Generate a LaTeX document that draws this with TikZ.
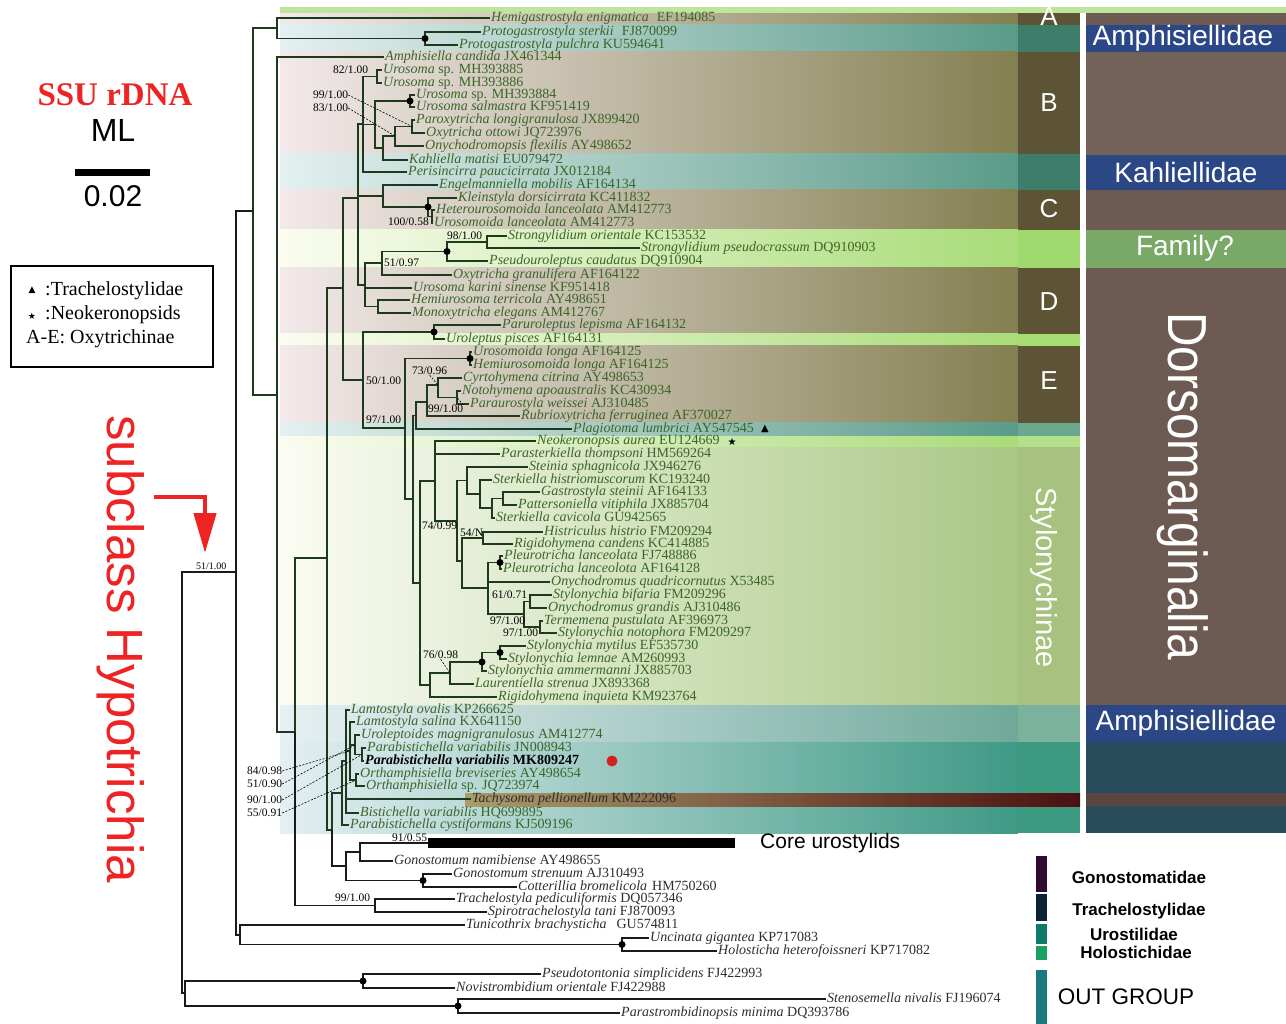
\documentclass[tikz,border=0pt]{standalone}
\usepackage{fontspec}
\setmainfont{Liberation Serif}
\setsansfont{Liberation Sans}
\newfontfamily\symf{DejaVu Sans}
\usetikzlibrary{arrows.meta}
\definecolor{brg}{HTML}{1E3A1C}
\definecolor{brk}{HTML}{1A1A1A}
\definecolor{tipg}{HTML}{3A6628}
\definecolor{tipk}{HTML}{2B302B}
\definecolor{olL}{HTML}{F3E9EB}\definecolor{olM}{HTML}{C8C59C}\definecolor{olR}{HTML}{837F50}
\definecolor{teL}{HTML}{E4F0F1}\definecolor{teM}{HTML}{A9D2C6}\definecolor{teR}{HTML}{5A9B88}
\definecolor{lgL}{HTML}{FAFCEF}\definecolor{lgM}{HTML}{DCEFBF}\definecolor{lgR}{HTML}{A9DC78}
\definecolor{stL}{HTML}{FBFCF4}\definecolor{stM}{HTML}{E1ECC9}\definecolor{stR}{HTML}{A9C785}
\definecolor{aaL}{HTML}{E7F0F4}\definecolor{aaM}{HTML}{B7D8D0}\definecolor{aaR}{HTML}{6FA99A}
\definecolor{abL}{HTML}{E4EFF3}\definecolor{abM}{HTML}{93CABB}\definecolor{abR}{HTML}{3F9A85}
\definecolor{colol}{HTML}{5C5434}
\definecolor{colte}{HTML}{3F7D6B}
\definecolor{brn}{HTML}{6D5A52}
\definecolor{famblue}{HTML}{2B4786}
\definecolor{dteal}{HTML}{294B5B}
\definecolor{hred}{HTML}{EE2424}
\definecolor{cfam}{HTML}{9FD86C}
\definecolor{clg2}{HTML}{A6DC70}
\definecolor{cpla}{HTML}{6AA890}
\definecolor{cneo}{HTML}{B4E08A}
\definecolor{csty}{HTML}{A7C17F}
\definecolor{cam1}{HTML}{7AB29D}
\definecolor{cam2}{HTML}{3C9A81}
\definecolor{ctac}{HTML}{4C0F0F}
\definecolor{tacL}{HTML}{AA9C6C}\definecolor{tacM}{HTML}{7F5E3C}\definecolor{tacR}{HTML}{4A1010}
\definecolor{ctop}{HTML}{BFE59C}
\definecolor{cbrn2}{HTML}{73625A}
\definecolor{cfamR}{HTML}{7AA866}
\definecolor{cbrn3}{HTML}{5A4641}
\definecolor{cdot}{HTML}{D42020}
\definecolor{lga}{HTML}{2E0A30}
\definecolor{lgb}{HTML}{0B2236}
\definecolor{lgc}{HTML}{0F7A68}
\definecolor{lgd}{HTML}{1AA060}
\definecolor{lge}{HTML}{1A7A80}
\newcommand\band[4]{\shade[left color=#3L, middle color=#3M, right color=#3R] (280,#1) rectangle (1018,#2);
  \fill[#4] (1018,#1) rectangle (1080,#2);}
\newcommand\rcol[3]{\fill[#3] (1086,#1) rectangle (1286,#2);}
\begin{document}
\begin{tikzpicture}[x=1pt,y=-1pt,
  tip/.style={anchor=west, inner xsep=1pt, inner ysep=0pt, text height=9.5pt, text depth=3pt, font=\fontsize{14}{14}\selectfont, text=tipg},
  tipk/.style={tip, text=tipk},
  sup/.style={anchor=west, inner sep=0pt, font=\fontsize{11.5}{12}\selectfont, text=black},
  br/.style={draw=brg, line width=1.8pt},
  brk/.style={draw=brk, line width=1.5pt},
  lead/.style={draw=black, line width=0.6pt, dash pattern=on 2pt off 1.5pt},
  band/.style={font=\sffamily\fontsize{28}{28}\selectfont, text=white, inner sep=0pt},
  letter/.style={font=\sffamily\fontsize{26}{26}\selectfont, text=white, inner sep=0pt},
  leg/.style={font=\sffamily\bfseries\fontsize{17}{17}\selectfont, text=black, inner sep=0pt}]
\useasboundingbox (0,0) rectangle (1286,1024);
\fill[white] (0,0) rectangle (1286,1024);
% ---------- background bands ----------
\fill[white] (1080,7) rectangle (1086,835);
\band{13}{25}{ol}{colol}
\band{25}{52}{te}{colte}
\band{52}{154}{ol}{colol}
\band{154}{190}{te}{colte}
\band{190}{230}{ol}{colol}
\band{230}{268}{lg}{cfam}
\band{268}{334}{ol}{colol}
\band{334}{346}{lg}{clg2}
\band{346}{423}{ol}{colol}
\band{423}{436}{te}{cpla}
\band{436}{447}{lg}{cneo}
\band{447}{705}{st}{csty}
\band{705}{742}{aa}{cam1}
\band{742}{793}{ab}{cam2}
\band{793}{806}{ab}{ctac}
\band{806}{833}{ab}{cam2}
\shade[left color=tacL, middle color=tacM, right color=tacR] (465,793) rectangle (1080,806);
\fill[ctop] (280,7) rectangle (1286,13);
\rcol{13}{25}{brn}
\rcol{25}{52}{famblue}
\rcol{52}{155}{cbrn2}
\rcol{155}{190}{famblue}
\rcol{190}{230}{brn}
\rcol{230}{268}{cfamR}
\rcol{268}{705}{brn}
\rcol{705}{742}{famblue}
\rcol{742}{793}{dteal}
\rcol{793}{806}{cbrn3}
\rcol{806}{833}{dteal}
% column labels
\node[letter] (LA) at (1049,17) {A};
\node[letter] (LB) at (1049,103) {B};
\node[letter] (LC) at (1049,209) {C};
\node[letter] (LD) at (1049,302) {D};
\node[letter] (LE) at (1049,381) {E};
\node[rotate=-90, anchor=base west, inner sep=0pt, font=\sffamily\fontsize{29}{29}\selectfont, text=white] (Lsty) at (1036,487) {Stylonychinae};
\node[band] (Ram1) at (1183,38) {Amphisiellidae};
\node[band] (Rkah) at (1186,172) {Kahliellidae};
\node[band] (Rfam) at (1185,248) {Family?};
\node[band] (Ram2) at (1186,723) {Amphisiellidae};
\node[rotate=-90, anchor=base west, inner sep=0pt, font=\sffamily\fontsize{55}{55}\selectfont, text=white] (Rdor) at (1168,312) {\scalebox{0.87}[1]{Dorsomarginalia}};
% ---------- tips ----------
\node[tip] (t1) at (490,18) {\textit{Hemigastrostyla enigmatica}\hspace{8pt}EF194085};
\node[tip] (t2) at (481,32) {\textit{Protogastrostyla sterkii}\hspace{8pt}FJ870099};
\node[tip] (t3) at (458,45) {\textit{Protogastrostyla pulchra} KU594641};
\node[tip] (t4) at (384,57) {\textit{Amphisiella candida} JX461344};
\node[tip] (t5) at (382,70) {\textit{Urosoma} sp. MH393885};
\node[tip] (t6) at (382,83) {\textit{Urosoma} sp. MH393886};
\node[tip] (t7) at (415,95) {\textit{Urosoma} sp. MH393884};
\node[tip] (t8) at (415,107) {\textit{Urosoma salmastra} KF951419};
\node[tip] (t9) at (415,120) {\textit{Paroxytricha longigranulosa} JX899420};
\node[tip] (t10) at (425,133) {\textit{Oxytricha ottowi} JQ723976};
\node[tip] (t11) at (424,146) {\textit{Onychodromopsis flexilis} AY498652};
\node[tip] (t12) at (408,160) {\textit{Kahliella matisi} EU079472};
\node[tip] (t13) at (407,172) {\textit{Perisincirra paucicirrata} JX012184};
\node[tip] (t14) at (438,185) {\textit{Engelmanniella mobilis} AF164134};
\node[tip] (t15) at (457,198) {\textit{Kleinstyla dorsicirrata} KC411832};
\node[tip] (t16) at (435,210) {\textit{Heterourosomoida lanceolata} AM412773};
\node[tip] (t17) at (433,223) {\textit{Urosomoida lanceolata} AM412773};
\node[tip] (t18) at (507,236) {\textit{Strongylidium orientale} KC153532};
\node[tip] (t19) at (640,248) {\textit{Strongylidium pseudocrassum} DQ910903};
\node[tip] (t20) at (488,261) {\textit{Pseudouroleptus caudatus} DQ910904};
\node[tip] (t21) at (452,275) {\textit{Oxytricha granulifera} AF164122};
\node[tip] (t22) at (412,288) {\textit{Urosoma karini sinense} KF951418};
\node[tip] (t23) at (410,300) {\textit{Hemiurosoma terricola} AY498651};
\node[tip] (t24) at (411,313) {\textit{Monoxytricha elegans} AM412767};
\node[tip] (t25) at (501,325) {\textit{Paruroleptus lepisma} AF164132};
\node[tip] (t26) at (445,339) {\textit{Uroleptus pisces} AF164131};
\node[tip] (t27) at (472,352) {\textit{Urosomoida longa} AF164125};
\node[tip] (t28) at (472,365) {\textit{Hemiurosomoida longa} AF164125};
\node[tip] (t29) at (462,378) {\textit{Cyrtohymena citrina} AY498653};
\node[tip] (t30) at (461,391) {\textit{Notohymena apoaustralis} KC430934};
\node[tip] (t31) at (469,404) {\textit{Paraurostyla weissei} AJ310485};
\node[tip] (t32) at (520,416) {\textit{Rubrioxytricha ferruginea} AF370027};
\node[tip] (t33) at (572,429) {\textit{Plagiotoma lumbrici} AY547545};
\node[tip] (t34) at (536,441) {\textit{Neokeronopsis aurea} EU124669};
\node[tip] (t35) at (500,454) {\textit{Parasterkiella thompsoni} HM569264};
\node[tip] (t36) at (528,467) {\textit{Steinia sphagnicola} JX946276};
\node[tip] (t37) at (492,480) {\textit{Sterkiella histriomuscorum} KC193240};
\node[tip] (t38) at (540,492) {\textit{Gastrostyla steinii} AF164133};
\node[tip] (t39) at (517,505) {\textit{Pattersoniella vitiphila} JX885704};
\node[tip] (t40) at (495,518) {\textit{Sterkiella cavicola} GU942565};
\node[tip] (t41) at (543,532) {\textit{Histriculus histrio} FM209294};
\node[tip] (t42) at (513,544) {\textit{Rigidohymena candens} KC414885};
\node[tip] (t43) at (503,556) {\textit{Pleurotricha lanceolata} FJ748886};
\node[tip] (t44) at (502,569) {\textit{Pleurotricha lanceolota} AF164128};
\node[tip] (t45) at (550,582) {\textit{Onychodromus quadricornutus} X53485};
\node[tip] (t46) at (552,595) {\textit{Stylonychia bifaria} FM209296};
\node[tip] (t47) at (547,608) {\textit{Onychodromus grandis} AJ310486};
\node[tip] (t48) at (543,621) {\textit{Termemena pustulata} AF396973};
\node[tip] (t49) at (557,633) {\textit{Stylonychia notophora} FM209297};
\node[tip] (t50) at (526,646) {\textit{Stylonychia mytilus} EF535730};
\node[tip] (t51) at (507,659) {\textit{Stylonychia lemnae} AM260993};
\node[tip] (t52) at (487,671) {\textit{Stylonychia ammermanni} JX885703};
\node[tip] (t53) at (474,684) {\textit{Laurentiella strenua} JX893368};
\node[tip] (t54) at (497,697) {\textit{Rigidohymena inquieta} KM923764};
\node[tip] (t55) at (350,710) {\textit{Lamtostyla ovalis} KP266625};
\node[tip] (t56) at (355,722) {\textit{Lamtostyla salina} KX641150};
\node[tip] (t57) at (360,735) {\textit{Uroleptoides magnigranulosus} AM412774};
\node[tip] (t58) at (366,748) {\textit{Parabistichella variabilis} JN008943};
\node[tip, text=black] (t59) at (364,761) {\bfseries\textit{Parabistichella variabilis} MK809247};
\node[tip] (t60) at (359,774) {\textit{Orthamphisiella breviseries} AY498654};
\node[tip] (t61) at (365,786) {\textit{Orthamphisiella} sp. JQ723974};
\node[tipk] (t62) at (471,799) {\textit{Tachysoma pellionellum} KM222096};
\node[tip] (t63) at (359,813) {\textit{Bistichella variabilis} HQ699895};
\node[tip] (t64) at (349,825) {\textit{Parabistichella cystiformans} KJ509196};
\node[tipk] (t66) at (393,861) {\textit{Gonostomum namibiense} AY498655};
\node[tipk] (t67) at (452,874) {\textit{Gonostomum strenuum} AJ310493};
\node[tipk] (t68) at (517,887) {\textit{Cotterillia bromelicola}\hspace{5pt}HM750260};
\node[tipk] (t69) at (455,899) {\textit{Trachelostyla pediculiformis} DQ057346};
\node[tipk] (t70) at (487,912) {\textit{Spirotrachelostyla tani} FJ870093};
\node[tipk] (t71) at (465,925) {\textit{Tunicothrix brachysticha}\hspace{10pt}GU574811};
\node[tipk] (t72) at (649,938) {\textit{Uncinata gigantea} KP717083};
\node[tipk] (t73) at (717,951) {\textit{Holosticha heterofoissneri} KP717082};
\node[tipk] (t74) at (541,974) {\textit{Pseudotontonia simplicidens} FJ422993};
\node[tipk] (t75) at (455,988) {\textit{Novistrombidium orientale} FJ422988};
\node[tipk] (t76) at (826,999) {\textit{Stenosemella nivalis} FJ196074};
\node[tipk] (t77) at (620,1013) {\textit{Parastrombidinopsis minima} DQ393786};
% ---------- internal nodes ----------
\coordinate (root) at (182,782);
\coordinate (n236) at (236,572);
\coordinate (n253) at (253,211);
\coordinate (nHP) at (277,28);
\coordinate (nProto) at (425,38.5);
\coordinate (n277b) at (277,395);
\coordinate (n295) at (295,732);
\coordinate (n327) at (327,558);
\coordinate (nOxyA) at (343,288);
\coordinate (n358) at (358,198);
\coordinate (n363) at (363,124);
\coordinate (nU1) at (377,76.5);
\coordinate (nU2) at (375,124.5);
\coordinate (nUd) at (410,101);
\coordinate (n383k) at (383,148);
\coordinate (n395) at (395,136);
\coordinate (n412) at (412,126.5);
\coordinate (nEng) at (383,196);
\coordinate (nKd) at (428,207);
\coordinate (nHU) at (432,216.5);
\coordinate (nK) at (365,285);
\coordinate (n51) at (382,263);
\coordinate (nSd) at (447,251.5);
\coordinate (nSo) at (487,242);
\coordinate (nHM) at (378,306.5);
\coordinate (nE) at (363,380);
\coordinate (nPar) at (434,332);
\coordinate (n404) at (405,428);
\coordinate (nUL) at (470,358.5);
\coordinate (n413) at (413,499);
\coordinate (n415) at (416,415.5);
\coordinate (n426) at (427,402);
\coordinate (n438) at (438,385);
\coordinate (n458) at (457,397.5);
\coordinate (n420) at (420,583);
\coordinate (n435) at (435,481);
\coordinate (n74) at (457,521);
\coordinate (n467) at (467,480.5);
\coordinate (n480) at (480,494);
\coordinate (n492) at (492,508);
\coordinate (n503) at (503,498.5);
\coordinate (n54p) at (462,561);
\coordinate (n54) at (483,538);
\coordinate (n488) at (488,588);
\coordinate (nPl) at (500,562.5);
\coordinate (nC) at (524,614);
\coordinate (nA) at (530,601.5);
\coordinate (nB) at (540,627);
\coordinate (n430) at (430,685);
\coordinate (n450) at (450,673);
\coordinate (nSdot) at (482,662);
\coordinate (nSm) at (500,652.5);
\coordinate (n332) at (332,830);
\coordinate (nAmL) at (342,793);
\coordinate (nAm2) at (346,761);
\coordinate (nL1) at (350,751);
\coordinate (nL2) at (355,745);
\coordinate (nL3) at (362,754.5);
\coordinate (nO) at (356,780);
\coordinate (nCore) at (346,866);
\coordinate (n360) at (360,852);
\coordinate (cbar) at (428,843);
\coordinate (cbarE) at (735,843);
\coordinate (nGd) at (423,880.5);
\coordinate (nTr) at (375,905.5);
\coordinate (nTun) at (240,935);
\coordinate (nUnc) at (622,944.5);
\coordinate (nOut) at (185,993);
\coordinate (nPs) at (363,981);
\coordinate (nSt) at (458,1006);
% ---------- branches ----------
\foreach \p/\c in {n253/nHP, n253/n277b, nHP/nProto, n277b/n295, n295/n327, n327/nOxyA, n327/n332, n332/nAmL,
  nOxyA/n358, nOxyA/nE, n358/n363, n358/nEng, n358/nK, nK/n51, nK/nHM, n363/nU1, n363/nU2, nU2/nUd, nU2/n383k,
  n383k/n395, n395/n412, nEng/nKd, nKd/nHU, n51/nSd, nSd/nSo, nE/nPar, nE/n404, n404/nUL, n404/n413,
  n413/n415, n413/n420, n415/n426, n426/n438, n438/n458, n420/n435, n420/n430, n435/n74, n74/n467, n74/n54p,
  n467/n480, n480/n492, n492/n503, n54p/n54, n54p/n488, n488/nPl, n488/nC, nC/nA, nC/nB, n430/n450,
  n450/nSdot, nSdot/nSm, nAmL/nAm2, nAm2/nL1, nL1/nL2, nL1/nO, nL2/nL3}
  \draw[br] (\p) |- (\c);
\foreach \p/\c in {nHP/t1, nProto/t2, nProto/t3, n277b/t4, nU1/t5, nU1/t6, nUd/t7, nUd/t8, n412/t9, n412/t10,
  n395/t11, n383k/t12, n363/t13, nEng/t14, nKd/t15, nHU/t16, nHU/t17, nSo/t18, nSo/t19, nSd/t20, n51/t21,
  nK/t22, nHM/t23, nHM/t24, nPar/t25, nPar/t26, nUL/t27, nUL/t28, n438/t29, n458/t30, n458/t31, n426/t32,
  n415/t33, n435/t34, n435/t35, n467/t36, n480/t37, n503/t38, n503/t39, n492/t40, n54/t41, n54/t42,
  nPl/t43, nPl/t44, n488/t45, nA/t46, nA/t47, nB/t48, nB/t49, nSm/t50, nSm/t51, nSdot/t52, n450/t53,
  n430/t54, nAm2/t55, nL1/t56, nL2/t57, nL3/t58, nL3/t59, nO/t60, nO/t61, nAm2/t62, nAm2/t63, nAmL/t64}
  \draw[br] (\p) |- (\c.west);
\foreach \p/\c in {root/n236, root/nOut, n236/n253, n236/nTun, n295/nTr, n332/nCore, nCore/n360, nCore/nGd,
  n360/cbar, nTun/nUnc, nOut/nPs, nOut/nSt}
  \draw[brk] (\p) |- (\c);
\foreach \p/\c in {n360/t66, nGd/t67, nGd/t68, nTr/t69, nTr/t70, nTun/t71, nUnc/t72, nUnc/t73, nPs/t74,
  nPs/t75, nSt/t76, nSt/t77}
  \draw[brk] (\p) |- (\c.west);
\draw[line width=10pt] (cbar) -- (cbarE);
\node[anchor=west, inner sep=0pt, font=\sffamily\fontsize{21}{21}\selectfont] (core) at (760,843) {Core urostylids};
\foreach \n in {nProto,nUd,nKd,nSd,nPar,nUL,nPl,nSdot,nSm,nGd,nUnc,nPs,nSt}
  \fill (\n) circle (3.5);
% symbols on tips
\node[inner sep=0pt, font=\symf\fontsize{10}{10}\selectfont] (tri) at (765,429) {▲};
\node[inner sep=0pt, font=\symf\fontsize{10}{10}\selectfont] (star) at (732,442) {★};
\fill[cdot] (612,761) circle (5.5);
% ---------- support values ----------
\node[sup] (s1) at (333,70) {82/1.00};
\node[sup] (s2) at (313,95) {99/1.00};
\node[sup] (s3) at (313,108) {83/1.00};
\node[sup] (s4) at (388,222) {100/0.58};
\node[sup] (s5) at (447,236) {98/1.00};
\node[sup] (s6) at (384,263) {51/0.97};
\node[sup] (s7) at (412,371) {73/0.96};
\node[sup] (s8) at (366,381) {50/1.00};
\node[sup] (s9) at (428,409) {99/1.00};
\node[sup] (s10) at (366,420) {97/1.00};
\node[sup] (s11) at (422,526) {74/0.99};
\node[sup] (s12) at (460,533) {54/N};
\node[sup] (s13) at (492,595) {61/0.71};
\node[sup] (s14) at (490,621) {97/1.00};
\node[sup] (s15) at (503,633) {97/1.00};
\node[sup] (s16) at (423,655) {76/0.98};
\node[sup] (s17) at (247,771) {84/0.98};
\node[sup] (s18) at (247,784) {51/0.90};
\node[sup] (s19) at (247,800) {90/1.00};
\node[sup] (s20) at (247,813) {55/0.91};
\node[sup] (s21) at (392,838) {91/0.55};
\node[sup] (s22) at (335,898) {99/1.00};
\node[sup, font=\fontsize{10}{10}\selectfont] (s23) at (196,566) {51/1.00};
\draw[lead] (s2.east) -- (n412);
\draw[lead] (s3.east) -- (n395);
\draw[lead] (s7.south) -- (n438);
\draw[lead] (s9.north east) -- (n458);
\draw[lead] (s16.south) -- (n450);
\draw[lead] (s17.east) -- (nL1);
\draw[lead] (s18.east) -- (nL2);
\draw[lead] (s19.east) -- (nL3);
\draw[lead] (s20.east) -- (nO);
% ---------- left panel ----------
\node[inner sep=0pt, text=hred, font=\bfseries\fontsize{33}{33}\selectfont] (ssu) at (115,95) {SSU rDNA};
\node[inner sep=0pt, font=\sffamily\fontsize{32}{32}\selectfont] (ml) at (113,130) {ML};
\coordinate (sbL) at (75,173);
\coordinate (sbR) at (150,173);
\draw[line width=7pt] (sbL) -- (sbR);
\node[inner sep=0pt, font=\sffamily\fontsize{30}{30}\selectfont] (sbt) at (113,196) {0.02};
\node[draw, line width=1.2pt, minimum width=202pt, minimum height=101pt, inner sep=0pt] (lbox) at (112,316.5) {};
\node[anchor=center, inner sep=0pt, font=\symf\fontsize{9}{9}\selectfont] (l1s) at (32,290) {▲};
\node[anchor=west, inner sep=0pt, font=\fontsize{20}{20}\selectfont] (l1) at (45,291) {:Trachelostylidae};
\node[anchor=center, inner sep=0pt, font=\symf\fontsize{9}{9}\selectfont] (l2s) at (32,316) {★};
\node[anchor=west, inner sep=0pt, font=\fontsize{20}{20}\selectfont] (l2) at (45,315) {:Neokeronopsids};
\node[anchor=west, inner sep=0pt, font=\fontsize{20}{20}\selectfont] (l3) at (26,339) {A-E: Oxytrichinae};
\node[rotate=-90, anchor=base west, inner sep=0pt, text=hred, font=\sffamily\fontsize{51}{51}\selectfont] (hyp) at (107,415) {subclass Hypotrichia};
\coordinate (arA) at (154,497);
\coordinate (arB) at (205,553);
\draw[hred, line width=4.5pt, -{Triangle[length=40pt,width=22pt]}] (arA) -| (arB);
% ---------- bottom legend ----------
\fill[lga] (1036,856) rectangle (1047,892);
\fill[lgb] (1036,894) rectangle (1047,921);
\fill[lgc] (1036,924) rectangle (1047,944);
\fill[lgd] (1036,946) rectangle (1047,960);
\fill[lge] (1036,970) rectangle (1047,1024);
\node[leg] (g1) at (1139,877) {Gonostomatidae};
\node[leg] (g2) at (1139,911) {Trachelostylidae};
\node[leg] (g3) at (1134,934) {Urostilidae};
\node[leg] (g4) at (1136,952) {Holostichidae};
\node[inner sep=0pt, font=\sffamily\fontsize{22.5}{23}\selectfont] (g5) at (1126,997) {OUT GROUP};
\end{tikzpicture}
\end{document}
